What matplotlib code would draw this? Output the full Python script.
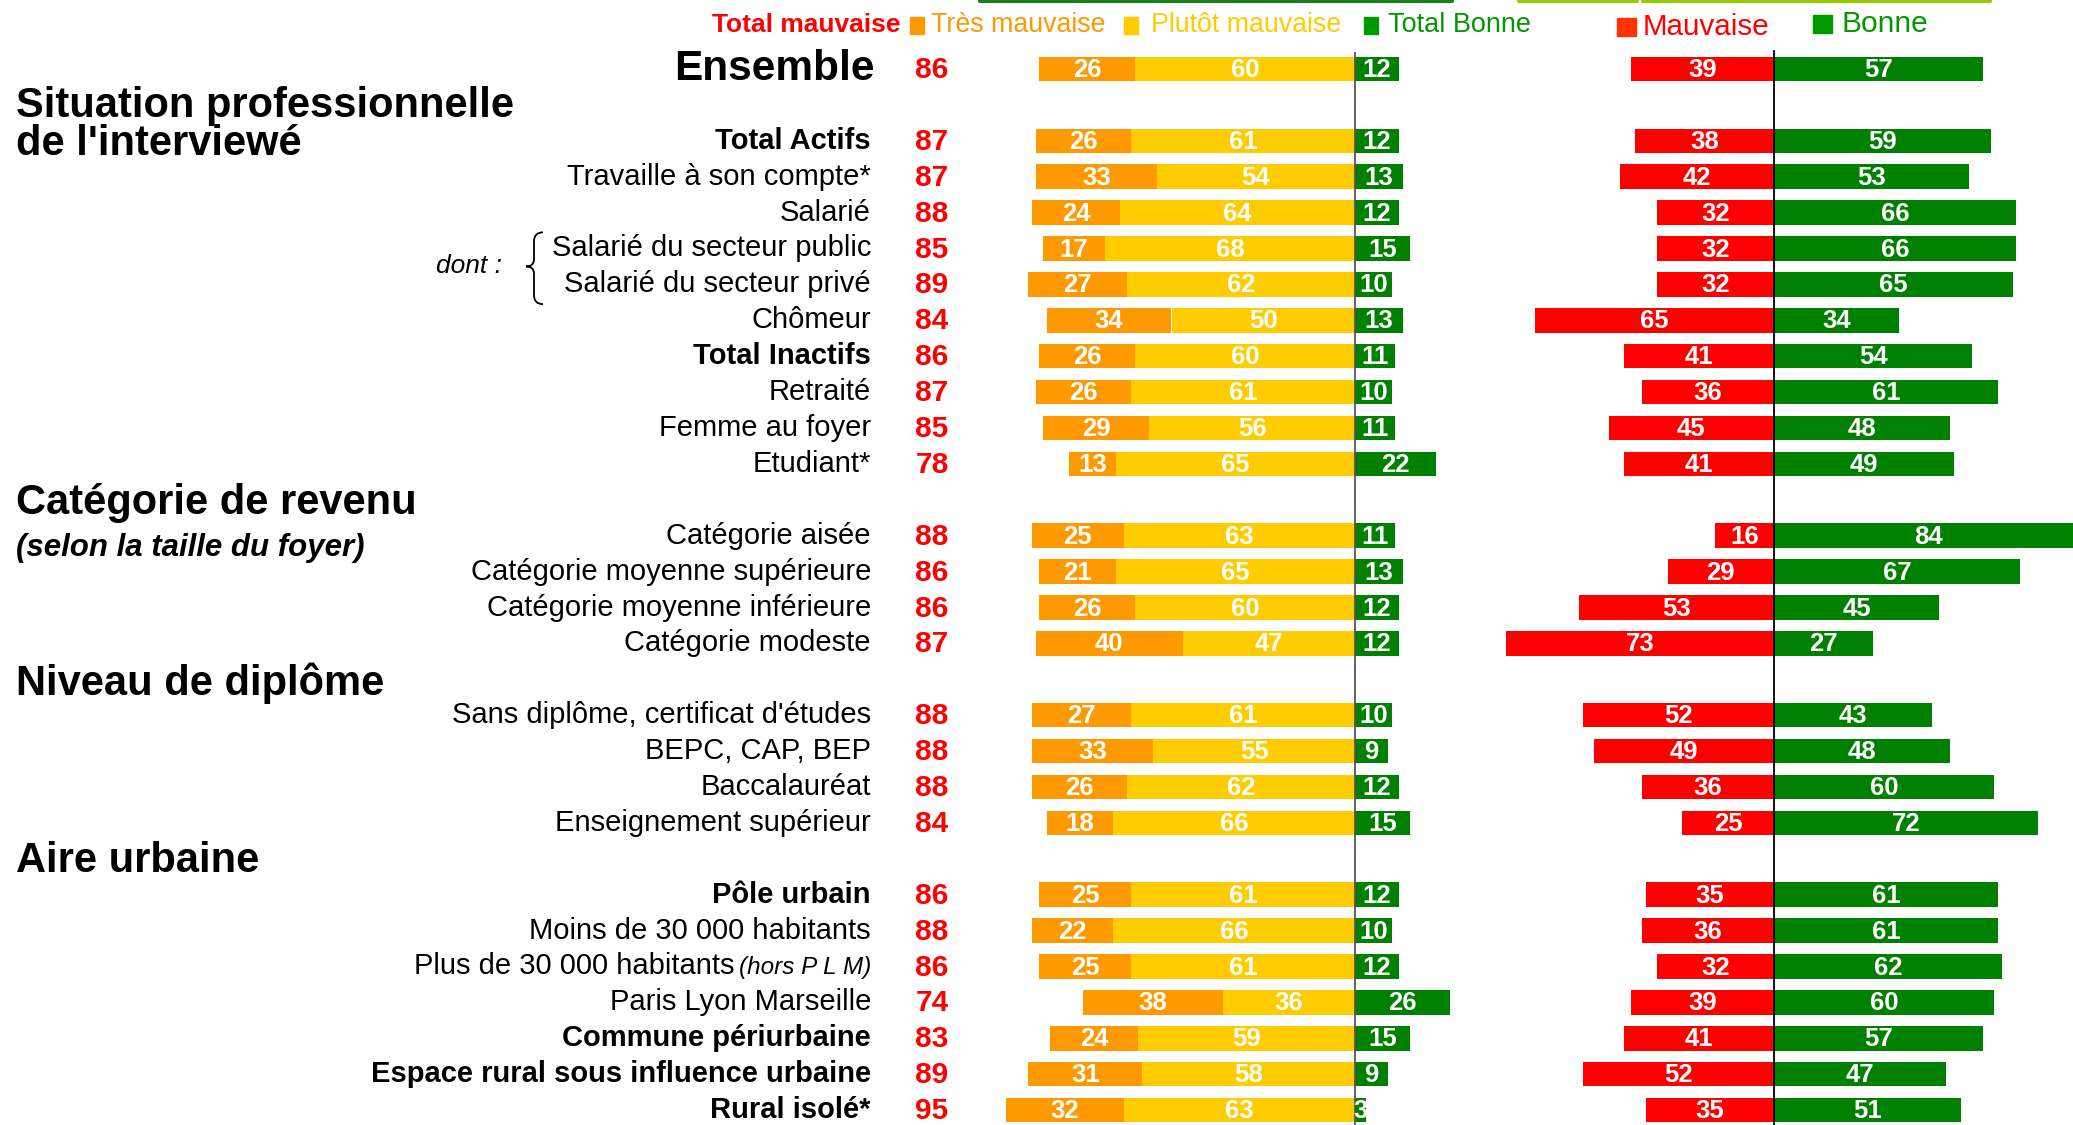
import matplotlib
matplotlib.use('agg')
import matplotlib.pyplot as plt
import matplotlib.transforms as mtransforms
from matplotlib.path import Path
from matplotlib.patches import PathPatch, Rectangle

plt.rcParams['font.family'] = ['Liberation Sans Narrow', 'Liberation Sans', 'DejaVu Sans']

W, H = 2073, 1125

# ---- data -------------------------------------------------------------
rowPos = [0, 2, 3, 4, 5, 6, 7, 8, 9, 10, 11,
          13, 14, 15, 16,
          18, 19, 20, 21,
          23, 24, 25, 26, 27, 28, 29]
labels = ['Ensemble', 'Total Actifs', 'Travaille à son compte*', 'Salarié',
          'Salarié du secteur public', 'Salarié du secteur privé', 'Chômeur',
          'Total Inactifs', 'Retraité', 'Femme au foyer', 'Etudiant*',
          'Catégorie aisée', 'Catégorie moyenne supérieure',
          'Catégorie moyenne inférieure', 'Catégorie modeste',
          "Sans diplôme, certificat d'études", 'BEPC, CAP, BEP', 'Baccalauréat',
          'Enseignement supérieur',
          'Pôle urbain', 'Moins de 30 000 habitants', 'Plus de 30 000 habitants',
          'Paris Lyon Marseille', 'Commune périurbaine',
          'Espace rural sous influence urbaine', 'Rural isolé*']
boldLabels = {'Total Actifs', 'Total Inactifs', 'Pôle urbain', 'Commune périurbaine',
              'Espace rural sous influence urbaine', 'Rural isolé*'}
totalMauvaise = [86, 87, 87, 88, 85, 89, 84, 86, 87, 85, 78,
                 88, 86, 86, 87, 88, 88, 88, 84,
                 86, 88, 86, 74, 83, 89, 95]
tresMauvaise = [26, 26, 33, 24, 17, 27, 34, 26, 26, 29, 13,
                25, 21, 26, 40, 27, 33, 26, 18,
                25, 22, 25, 38, 24, 31, 32]
plutotMauvaise = [60, 61, 54, 64, 68, 62, 50, 60, 61, 56, 65,
                  63, 65, 60, 47, 61, 55, 62, 66,
                  61, 66, 61, 36, 59, 58, 63]
totalBonne = [12, 12, 13, 12, 15, 10, 13, 11, 10, 11, 22,
              11, 13, 12, 12, 10, 9, 12, 15,
              12, 10, 12, 26, 15, 9, 3]
mauvaise = [39, 38, 42, 32, 32, 32, 65, 41, 36, 45, 41,
            16, 29, 53, 73, 52, 49, 36, 25,
            35, 36, 32, 39, 41, 52, 35]
bonne = [57, 59, 53, 66, 66, 65, 34, 54, 61, 48, 49,
         84, 67, 45, 27, 43, 48, 60, 72,
         61, 61, 62, 60, 57, 47, 51]

sections = [("Situation professionnelle", 1.02), ("de l'interviewé", 2.1),
            ("Catégorie de revenu", 12.1), ("Niveau de diplôme", 17.12),
            ("Aire urbaine", 22.07)]

ORANGE = '#FF9900'
YELLOW = '#FFCC00'
GREEN = '#008000'
RED = '#FF0000'
LGREEN = '#009900'

# ---- layout -----------------------------------------------------------
pxPerUnit = 3.67
y0, rowH = 69, 35.9
yTop = -y0 / rowH
yBot = (H - y0) / rowH
zeroL, zeroR = 1355, 1774

fig = plt.figure(figsize=(W / 100, H / 100), dpi=100)
ax1 = fig.add_axes([(zeroL - 100 * pxPerUnit) / W, 0, 130 * pxPerUnit / W, 1])
ax1.set_xlim(-100, 30)
ax2 = fig.add_axes([(zeroR - 80 * pxPerUnit) / W, 0, (W - zeroR + 80 * pxPerUnit) / W, 1])
ax2.set_xlim(-80, (W - zeroR) / pxPerUnit)
for ax in (ax1, ax2):
    ax.set_ylim(yBot, yTop)
    ax.axis('off')

barH = 0.68
tm = [-(a + b) for a, b in zip(tresMauvaise, plutotMauvaise)]
pm = [-b for b in plutotMauvaise]
ax1.barh(rowPos, tresMauvaise, left=tm, height=barH, color=ORANGE)
ax1.barh(rowPos, plutotMauvaise, left=pm, height=barH, color=YELLOW)
ax1.barh(rowPos, totalBonne, left=0, height=barH, color=GREEN)
ax1.plot([0, 0], [-0.45, yBot], color='#555555', lw=1.3, clip_on=False, zorder=3)

ax2.barh(rowPos, [-m for m in mauvaise], height=barH, color=RED)
ax2.barh(rowPos, bonne, height=barH, color=GREEN)
ax2.plot([0, 0], [-0.5, yBot], color='black', lw=1.3, clip_on=False, zorder=3)

valKw = dict(color='white', fontsize=18.5, fontweight='bold', ha='center', va='center')
for y, t, p, g, m, b in zip(rowPos, tresMauvaise, plutotMauvaise, totalBonne, mauvaise, bonne):
    ax1.text(-(t + p) + t / 2, y + 0.03, str(t), **valKw)
    ax1.text(-p / 2, y + 0.03, str(p), **valKw)
    ax1.text(g / 2, y + 0.03, str(g), clip_on=True, **valKw)
    ax2.text(-m / 2, y + 0.03, str(m), **valKw)
    ax2.text(b / 2, y + 0.03, str(b), clip_on=True, **valKw)

# ---- row labels -------------------------------------------------------
tr = mtransforms.blended_transform_factory(fig.transFigure, ax1.transData)
labelX = 871 / W
numX = 932 / W
renderer = fig.canvas.get_renderer()
for y, lab, tot in zip(rowPos, labels, totalMauvaise):
    if lab == 'Ensemble':
        fig.text(875 / W, y, lab, transform=tr, fontsize=30.5, fontweight='bold',
                 ha='right', va='center')
    elif lab == 'Plus de 30 000 habitants':
        it = fig.text(labelX, y + 0.03, '(hors P L M)', transform=tr, fontsize=17.5,
                      fontstyle='italic', ha='right', va='center')
        bb = it.get_window_extent(renderer)
        fig.text((bb.x0 - 4) / W, y, lab, transform=tr, fontsize=21,
                 ha='right', va='center')
    else:
        fig.text(labelX, y, lab, transform=tr, fontsize=21,
                 fontweight='bold' if lab in boldLabels else 'normal',
                 ha='right', va='center')
    fig.text(numX, y + 0.03, str(tot), transform=tr, fontsize=21.5, fontweight='bold',
             color=RED, ha='center', va='center')

for txt, y in sections:
    fig.text(16 / W, y, txt, transform=tr, fontsize=30, fontweight='bold',
             ha='left', va='center')
fig.text(16 / W, 13.35, '(selon la taille du foyer)', transform=tr, fontsize=22.5,
         fontweight='bold', fontstyle='italic', ha='left', va='center')

# "dont :" with brace
fig.text(502 / W, 5.5, 'dont :', transform=tr, fontsize=19, fontstyle='italic',
         ha='right', va='center')
bx1, bxm, bx0 = 543 / W, 534 / W, 526 / W
ya, ym, yb = 4.55, 5.5, 6.55
verts = [(bx1, ya), (bxm, ya), (bxm, ya + 0.25),
         (bxm, ym - 0.2),
         (bxm, ym), (bx0, ym),
         (bxm, ym), (bxm, ym + 0.2),
         (bxm, yb - 0.25),
         (bxm, yb), (bx1, yb)]
codes = [Path.MOVETO, Path.CURVE3, Path.CURVE3, Path.LINETO,
         Path.CURVE3, Path.CURVE3, Path.CURVE3, Path.CURVE3,
         Path.LINETO, Path.CURVE3, Path.CURVE3]
fig.patches.append(PathPatch(Path(verts, codes), transform=tr, fill=False,
                             lw=1.3, edgecolor='black'))

# ---- legend -----------------------------------------------------------
def fy(y):
    return 1 - y / H

fig.text(901 / W, fy(25), 'Total mauvaise', fontsize=19, fontweight='bold',
         color=RED, ha='right', va='center')
legItems = [(910, 931, ORANGE, ORANGE, 'Très mauvaise', 19.3, 25),
            (1124, 1151, YELLOW, YELLOW, 'Plutôt mauvaise', 19.3, 25),
            (1364, 1388, LGREEN, LGREEN, 'Total Bonne', 19.5, 25),
            (1617, 1643, '#FF3300', RED, 'Mauvaise', 21.3, 27),
            (1813, 1842, LGREEN, LGREEN, 'Bonne', 21.5, 24)]
for sx, tx, sc, tx_c, txt, fs, ty in legItems:
    w = 14 if fs < 20 else 19
    h = 17 if fs < 20 else 18
    fig.patches.append(Rectangle((sx / W, fy(ty + h / 2)), w / W, h / H,
                                 transform=fig.transFigure, color=sc))
    fig.text(tx / W, fy(ty), txt, fontsize=fs, color=tx_c, ha='left', va='center')

# partial header boxes cut at the top edge
for xa, xb, c in [(980, 1452, '#1E7F1E'), (1519, 1637, '#99CC00'), (1643, 1990, '#99CC00')]:
    fig.add_artist(plt.Line2D([xa / W, xb / W], [fy(1), fy(1)], color=c, lw=3,
                              solid_capstyle='round', transform=fig.transFigure))

fig.savefig('out.png', dpi=100)
